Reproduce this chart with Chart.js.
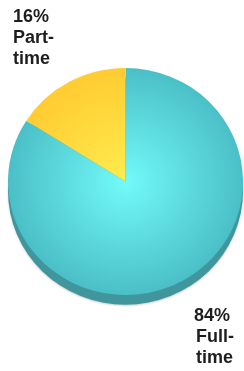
<!DOCTYPE html>
<html>
<head>
<meta charset="utf-8">
<script src="https://cdn.jsdelivr.net/npm/chart.js@4/dist/chart.umd.min.js"></script>
<style>
html,body{margin:0;padding:0;background:#fff;}
#wrap{width:244px;height:371px;position:relative;}
</style>
</head>
<body>
<div id="wrap"><canvas id="pie"></canvas></div>
<script>
var labels=["Full-time","Part-time"];
var values=[84,16];
var pctLabels=["84%","16%"];

// gradient colours per slice: [centre, edge]
var sliceCols=[["#72fafa","#4bbfc7"],["#ffec4e","#ffcc32"]];
var squash=0.966; // pie is a bit flatter than a circle

function fillFor(ctx){
    var chart=ctx.chart;
    var a=chart.chartArea;
    if(!a||!isFinite(a.left))return sliceCols[ctx.dataIndex][1];
    var cx=(a.left+a.right)/2, cy=(a.top+a.bottom)/2;
    var r=Math.min(a.right-a.left,a.bottom-a.top)/2;
    var g=chart.ctx.createRadialGradient(cx,cy,0,cx,cy,r);
    g.addColorStop(0,sliceCols[ctx.dataIndex][0]);
    g.addColorStop(1,sliceCols[ctx.dataIndex][1]);
    return g;
}

// flatten + darker rim under the pie, gives the tilted look
var rim={
    id:'rim',
    beforeDatasetsDraw:function(chart){
        var arc=chart.getDatasetMeta(0).data[0];
        if(!arc||!isFinite(arc.x))return;
        var c=chart.ctx;
        c.save();
        c.translate(arc.x,arc.y);
        c.scale(1,squash);
        c.translate(-arc.x,-arc.y);
        c.save();
        c.shadowColor="rgba(0,0,0,0.2)";
        c.shadowBlur=2;
        c.shadowOffsetY=1;
        c.beginPath();
        c.arc(arc.x,arc.y+10,arc.outerRadius,0,Math.PI*2);
        c.fillStyle="#3f979d";
        c.fill();
        c.restore();
    },
    afterDatasetsDraw:function(chart){
        chart.ctx.restore();
    }
};

// the two text blocks in the corners
var cornerText={
    id:'cornerText',
    afterDraw:function(chart){
        var c=chart.ctx;
        c.save();
        c.fillStyle="#1e1e1e";
        c.font="bold 18px 'Liberation Sans', Arial, sans-serif";
        c.textBaseline="top";
        c.textAlign="left";
        var part=[pctLabels[1],"Part-","time"];
        for(var i=0;i<3;i++)c.fillText(part[i],13,8+i*21);
        var full=[pctLabels[0],"Full-","time"];
        for(var i=0;i<3;i++)c.fillText(full[i],i==0?194:196,307+i*21);
        c.restore();
    }
};

var chart=new Chart(document.getElementById("pie"),{
    type:'pie',
    data:{
        labels:labels,
        datasets:[{
            data:values,
            backgroundColor:fillFor,
            borderWidth:0
        }]
    },
    options:{
        responsive:true,
        maintainAspectRatio:false,
        animation:false,
        layout:{padding:{left:8,right:1,top:64,bottom:72}},
        plugins:{legend:{display:false},tooltip:{enabled:false}}
    },
    plugins:[rim,cornerText]
});
</script>
</body>
</html>
